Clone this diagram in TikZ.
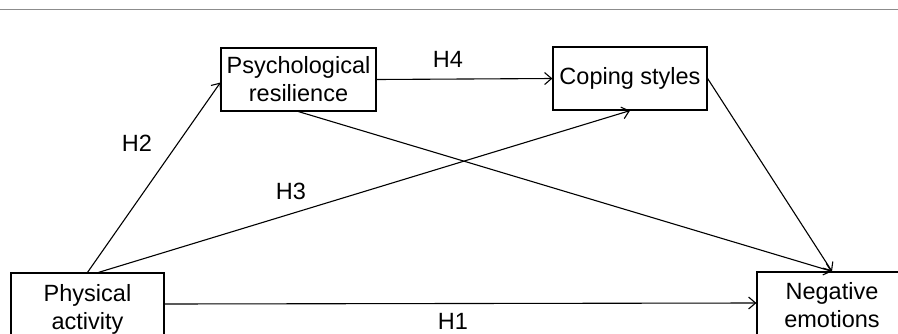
\documentclass[tikz,border=0pt]{standalone}
\usepackage{fontspec}
\setmainfont{Liberation Sans}
\usetikzlibrary{arrows.meta}
\begin{document}
\begin{tikzpicture}[x=1pt,y=-1pt,
  every node/.style={font=\fontsize{23.5}{28}\selectfont},
  varbox/.style={draw,line width=1.2pt,align=center,inner sep=0pt},
  conn/.style={line width=1.1pt,-{Straight Barb[length=7pt,width=12pt,line width=1.1pt]}},
  hlabel/.style={inner sep=0pt}]
\useasboundingbox (0,0) rectangle (898,333);
\clip (0,0) rectangle (898,333);
\fill[white] (0,0) rectangle (898,333);
\coordinate (tl) at (0,9);
\coordinate (tr) at (898,9);
\draw[line width=1pt,black!45] (tl) -- (tr);
\node[varbox,minimum width=155pt,minimum height=63pt] (psych) at (298.5,79.5) {Psychological\\resilience};
\node[varbox,minimum width=154pt,minimum height=63pt] (coping) at (630,78.5) {Coping styles};
\node[varbox,minimum width=153pt,minimum height=72pt] (phys) at (87.5,309) {Physical\\activity};
\node[varbox,minimum width=150pt,minimum height=66pt] (neg) at (832,305) {Negative\\emotions};
\node[hlabel] (h2) at (137,143) {H2};
\node[hlabel] (h3) at (291,191) {H3};
\node[hlabel] (h4) at (448,59) {H4};
\node[hlabel] (h1) at (453,321) {H1};
\draw[conn] (phys.north) -- ([yshift=-3pt]psych.west);
\draw[conn] ([xshift=11pt]phys.north) -- (coping.south);
\draw[conn] (psych.east) -- (coping.west);
\draw[conn] (psych.south) -- (neg.north);
\draw[conn] (coping.east) -- (neg.north);
\draw[conn] ([yshift=5pt]phys.east) -- ([yshift=2pt]neg.west);
\end{tikzpicture}
\end{document}
